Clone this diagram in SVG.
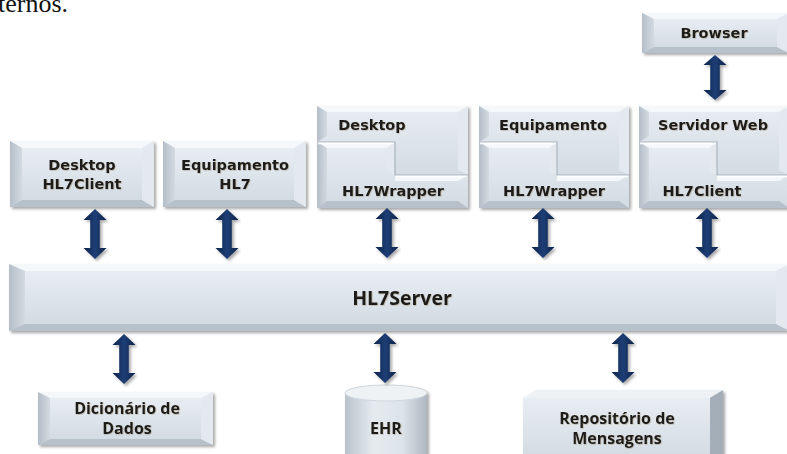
<svg xmlns="http://www.w3.org/2000/svg" width="787" height="454" viewBox="0 0 787 454">
<defs>
  <linearGradient id="gFace" x1="0" y1="0" x2="0" y2="1">
    <stop offset="0" stop-color="#e8edf2"/>
    <stop offset="1" stop-color="#d3dbe3"/>
  </linearGradient>
  <linearGradient id="gLeft" x1="0" y1="0" x2="1" y2="0">
    <stop offset="0" stop-color="#b4bec8"/>
    <stop offset="1" stop-color="#d3dae1"/>
  </linearGradient>
  <linearGradient id="gArrow" x1="0" y1="0" x2="1" y2="0">
    <stop offset="0" stop-color="#0c2249"/>
    <stop offset="0.5" stop-color="#1f3f75"/>
    <stop offset="1" stop-color="#0c2249"/>
  </linearGradient>
  <linearGradient id="gCyl" x1="0" y1="0" x2="1" y2="0">
    <stop offset="0" stop-color="#b9c3cc"/>
    <stop offset="0.35" stop-color="#e6ebef"/>
    <stop offset="0.7" stop-color="#dce3e9"/>
    <stop offset="1" stop-color="#aeb8c2"/>
  </linearGradient>
  <filter id="sh" x="-5%" y="-10%" width="115%" height="130%">
    <feDropShadow dx="2" dy="2" stdDeviation="1.5" flood-color="#000" flood-opacity="0.35"/>
  </filter>
  <filter id="tsh" x="-10%" y="-30%" width="120%" height="160%">
    <feDropShadow dx="0.6" dy="0.6" stdDeviation="0.6" flood-color="#8a7a55" flood-opacity="0.55"/>
  </filter>
  <path id="arr" d="M0,0 L11.5,11 L4.8,11 L4.8,39 L11.5,39 L0,50 L-11.5,39 L-4.8,39 L-4.8,11 L-11.5,11 Z"/>
  <style>
    .face{fill:url(#gFace)}
    .bt{fill:#f5f8fa}
    .bl{fill:url(#gLeft)}
    .bb{fill:#b7c1cb}
    .br{fill:#e3e9ee}
    .hi{fill:none;stroke:#ffffff;stroke-width:1.5;stroke-opacity:0.9}
    .lo{fill:none;stroke:#a9b4bf;stroke-width:1.2}
    .t{font-family:"DejaVu Sans",Verdana,sans-serif;font-weight:bold;font-size:14.5px;fill:#1a1a1a;text-anchor:middle;filter:url(#tsh)}
    .t2{font-family:"Open Sans","Liberation Sans",sans-serif;font-weight:bold;font-size:16px;fill:#1a1a1a;text-anchor:middle;filter:url(#tsh)}
    .arrow{fill:url(#gArrow);filter:url(#sh)}
    .cap{font-family:"Liberation Serif","Times New Roman",serif;font-size:26px;fill:#111}
  </style>
</defs>

<text class="cap" x="-2" y="12">ternos.</text>

<!-- Desktop HL7Client -->
<g id="desktop-hl7client" filter="url(#sh)">
  <rect x="10" y="141" width="144" height="66" class="face"/>
  <polygon class="bt" points="10,141 154,141 142,148 22,148"/>
  <polygon class="bl" points="10,141 22,148 22,200 10,207"/>
  <polygon class="bb" points="10,207 22,200 142,200 154,207"/>
  <polygon class="br" points="154,141 154,207 142,200 142,148"/>
  <rect x="22" y="148" width="120" height="52" class="face"/>
  <text class="t" x="82" y="170">Desktop</text>
  <text class="t" x="82" y="189">HL7Client</text>
</g>

<!-- Equipamento HL7 -->
<g id="equipamento-hl7" filter="url(#sh)">
  <rect x="163" y="141" width="143" height="66" class="face"/>
  <polygon class="bt" points="163,141 306,141 294,148 175,148"/>
  <polygon class="bl" points="163,141 175,148 175,200 163,207"/>
  <polygon class="bb" points="163,207 175,200 294,200 306,207"/>
  <polygon class="br" points="306,141 306,207 294,200 294,148"/>
  <rect x="175" y="148" width="119" height="52" class="face"/>
  <text class="t" x="235" y="170">Equipamento</text>
  <text class="t" x="235" y="189">HL7</text>
</g>

<!-- Desktop HL7Wrapper -->
<g id="desktop-hl7wrapper" filter="url(#sh)">
  <polygon class="face" points="317,106 468,106 468,175 395,175 395,142 317,142"/>
  <polygon class="bt" points="317,106 468,106 458,112 327,112"/>
  <polygon class="bl" points="317,106 327,112 327,136 317,142"/>
  <polygon class="br" points="468,106 468,175 458,170 458,112"/>
  <polygon class="face" points="317,142 395,142 395,175 468,175 468,208 317,208"/>
  <polygon class="bt" points="317,142 395,142 387,148 327,148"/>
  <polygon class="bl" points="317,142 327,148 327,201 317,208"/>
  <polygon class="bb" points="317,208 327,201 458,201 468,208"/>
  <polygon class="br" points="395,142 395,175 387,170 387,148"/>
  <polygon class="bt" points="395,175 468,175 458,181 395,181"/>
  <polyline class="lo" points="317,142 395,142 395,175 468,175"/>
  <polyline class="hi" points="318,143.5 394,143.5"/>
  <polyline class="hi" points="396,176.5 467,176.5"/>
  <text class="t" x="372" y="130">Desktop</text>
  <text class="t" x="393" y="196">HL7Wrapper</text>
</g>

<!-- Equipamento HL7Wrapper -->
<g id="equipamento-hl7wrapper" filter="url(#sh)">
  <polygon class="face" points="479,106 629,106 629,175 557,175 557,142 479,142"/>
  <polygon class="bt" points="479,106 629,106 619,112 489,112"/>
  <polygon class="bl" points="479,106 489,112 489,136 479,142"/>
  <polygon class="br" points="629,106 629,175 619,170 619,112"/>
  <polygon class="face" points="479,142 557,142 557,175 629,175 629,208 479,208"/>
  <polygon class="bt" points="479,142 557,142 549,148 489,148"/>
  <polygon class="bl" points="479,142 489,148 489,201 479,208"/>
  <polygon class="bb" points="479,208 489,201 619,201 629,208"/>
  <polygon class="br" points="557,142 557,175 549,170 549,148"/>
  <polygon class="bt" points="557,175 629,175 619,181 557,181"/>
  <polyline class="lo" points="479,142 557,142 557,175 629,175"/>
  <polyline class="hi" points="480,143.5 556,143.5"/>
  <polyline class="hi" points="558,176.5 628,176.5"/>
  <text class="t" x="553" y="130">Equipamento</text>
  <text class="t" x="554" y="196">HL7Wrapper</text>
</g>

<!-- Servidor Web HL7Client -->
<g id="servidor-web-hl7client" filter="url(#sh)">
  <polygon class="face" points="639,106 789,106 789,175 717,175 717,142 639,142"/>
  <polygon class="bt" points="639,106 789,106 779,112 649,112"/>
  <polygon class="bl" points="639,106 649,112 649,136 639,142"/>
  <polygon class="br" points="789,106 789,175 779,170 779,112"/>
  <polygon class="face" points="639,142 717,142 717,175 789,175 789,208 639,208"/>
  <polygon class="bt" points="639,142 717,142 709,148 649,148"/>
  <polygon class="bl" points="639,142 649,148 649,201 639,208"/>
  <polygon class="bb" points="639,208 649,201 779,201 789,208"/>
  <polygon class="br" points="717,142 717,175 709,170 709,148"/>
  <polygon class="bt" points="717,175 789,175 779,181 717,181"/>
  <polyline class="lo" points="639,142 717,142 717,175 789,175"/>
  <polyline class="hi" points="640,143.5 716,143.5"/>
  <polyline class="hi" points="718,176.5 788,176.5"/>
  <text class="t" x="713" y="130">Servidor Web</text>
  <text class="t" x="702" y="196">HL7Client</text>
</g>

<!-- Browser -->
<g id="browser" filter="url(#sh)">
  <rect x="642" y="13" width="147" height="40" class="face"/>
  <polygon class="bt" points="642,13 789,13 777,19 654,19"/>
  <polygon class="bl" points="642,13 654,19 654,47 642,53"/>
  <polygon class="bb" points="642,53 654,47 777,47 789,53"/>
  <polygon class="br" points="789,13 789,53 777,47 777,19"/>
  <rect x="654" y="19" width="123" height="28" class="face"/>
  <text class="t" x="714" y="38">Browser</text>
</g>

<!-- HL7Server -->
<g id="hl7server" filter="url(#sh)">
  <rect x="9" y="264" width="781" height="67" class="face"/>
  <polygon class="bt" points="9,264 790,264 776,271 25,271"/>
  <polygon class="bl" points="9,264 25,271 25,324 9,331"/>
  <polygon class="bb" points="9,331 25,324 776,324 790,331"/>
  <polygon class="br" points="790,264 790,331 776,324 776,271"/>
  <rect x="25" y="271" width="751" height="53" class="face"/>
  <text class="t2" x="402" y="305" style="font-size:19.5px">HL7Server</text>
</g>

<!-- Dicionario de Dados -->
<g id="dicionario-de-dados" filter="url(#sh)">
  <rect x="38" y="392" width="175" height="53" class="face"/>
  <polygon class="bt" points="38,392 213,392 201,398 50,398"/>
  <polygon class="bl" points="38,392 50,398 50,439 38,445"/>
  <polygon class="bb" points="38,445 50,439 201,439 213,445"/>
  <polygon class="br" points="213,392 213,445 201,439 201,398"/>
  <rect x="50" y="398" width="151" height="41" class="face"/>
  <text class="t2" x="127" y="414">Dicionário de</text>
  <text class="t2" x="127" y="434">Dados</text>
</g>

<!-- EHR -->
<g id="ehr" filter="url(#sh)">
  <path d="M345,393 L345,470 L427,470 L427,393 A41,8 0 0 0 345,393 Z" fill="url(#gCyl)"/>
  <ellipse cx="386" cy="393" rx="41" ry="8" fill="#eef2f5" stroke="#cfd7de" stroke-width="1"/>
  <text class="t2" x="386" y="434">EHR</text>
</g>

<!-- Repositorio de Mensagens -->
<g id="repositorio-de-mensagens" filter="url(#sh)">
  <rect x="523" y="398" width="187" height="60" class="face"/>
  <polygon points="523,398 536,390 723,390 710,398" fill="#eef2f5"/>
  <polygon points="710,398 723,390 723,458 710,458" fill="#a3aeb9"/>
  <text class="t2" x="617" y="424">Repositório de</text>
  <text class="t2" x="617" y="444">Mensagens</text>
</g>

<!-- Connectors -->
<g id="connectors">
  <use href="#arr" class="arrow" transform="translate(95,209)"/>
  <use href="#arr" class="arrow" transform="translate(227,209)"/>
  <use href="#arr" class="arrow" transform="translate(387,208)"/>
  <use href="#arr" class="arrow" transform="translate(543,208)"/>
  <use href="#arr" class="arrow" transform="translate(707,208)"/>
  <use href="#arr" class="arrow" transform="translate(715,55) scale(1,0.9)"/>
  <use href="#arr" class="arrow" transform="translate(124,334)"/>
  <use href="#arr" class="arrow" transform="translate(385,333)"/>
  <use href="#arr" class="arrow" transform="translate(623,333)"/>
</g>
</svg>
